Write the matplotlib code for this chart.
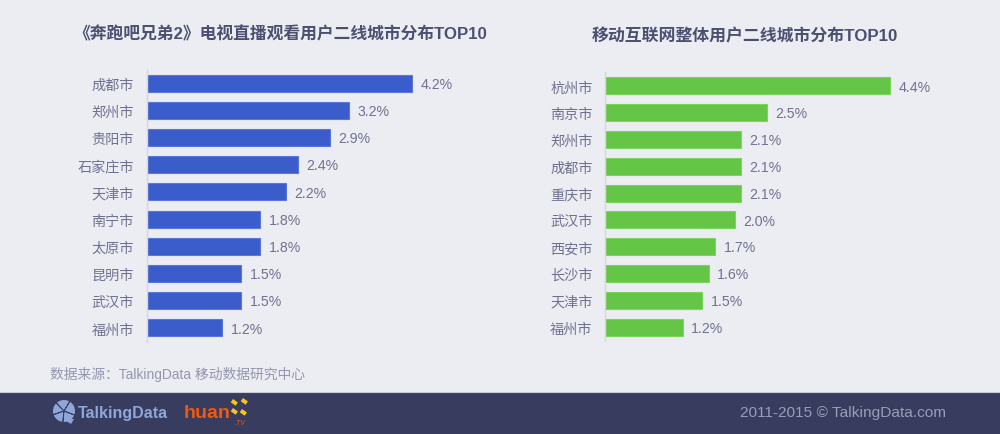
import matplotlib
matplotlib.use("Agg")
import matplotlib.pyplot as plt
from matplotlib.patches import Rectangle, Wedge, Polygon

plt.rcParams['font.family'] = ['Liberation Sans', 'Noto Sans CJK SC', 'DejaVu Sans']

W, H = 1000, 435
BG = '#ecedf3'
TEXT = '#6f7190'

left_cities = ['成都市', '郑州市', '贵阳市', '石家庄市', '天津市', '南宁市', '太原市', '昆明市', '武汉市', '福州市']
left_values = [4.2, 3.2, 2.9, 2.4, 2.2, 1.8, 1.8, 1.5, 1.5, 1.2]
right_cities = ['杭州市', '南京市', '郑州市', '成都市', '重庆市', '武汉市', '西安市', '长沙市', '天津市', '福州市']
right_values = [4.4, 2.5, 2.1, 2.1, 2.1, 2.0, 1.7, 1.6, 1.5, 1.2]

left_title = '《奔跑吧兄弟2》电视直播观看用户二线城市分布TOP10'
right_title = '移动互联网整体用户二线城市分布TOP10'


def make_axes(fig, x0, x1, y0, y1):
    return fig.add_axes([x0 / W, 1 - y1 / H, (x1 - x0) / W, (y1 - y0) / H])


def draw_bars(ax, cities, values, color, edge, xmax):
    pos = list(range(len(cities)))
    ax.barh(pos, values, height=0.63, color=color, edgecolor=edge, linewidth=0.8)
    for p, v in zip(pos, values):
        ax.annotate(f'{v}%', (v, p), xytext=(6, -0.5), textcoords='offset points',
                    va='center', ha='left', fontsize=10.2, color=TEXT)
    ax.set_yticks(pos)
    ax.set_yticklabels(cities, fontsize=10.2, color=TEXT)
    ax.tick_params(axis='y', length=0, pad=9)
    ax.set_xticks([])
    ax.set_xlim(0, xmax)
    ax.set_ylim(len(cities) - 0.5, -0.5)
    ax.patch.set_alpha(0)
    for s in ['top', 'right', 'bottom']:
        ax.spines[s].set_visible(False)
    ax.spines['left'].set_color('#d6d7de')
    ax.spines['left'].set_linewidth(1)


fig = plt.figure(figsize=(W / 100, H / 100), dpi=100, facecolor=BG)

ax1 = make_axes(fig, 146.5, 462, 70.5, 342.5)
draw_bars(ax1, left_cities, left_values, '#3b5ccb', '#5a78dc', 315.5 / 63.2)

ax2 = make_axes(fig, 605, 940, 73.5, 341.5)
draw_bars(ax2, right_cities, right_values, '#64c546', '#7ad45e', 335 / 64.8)

fig.text(280 / W, 1 - 34 / H, left_title, ha='center', va='center', fontsize=12.1,
         fontweight='bold', color='#4c5070')
fig.text(745 / W, 1 - 36 / H, right_title, ha='center', va='center', fontsize=12.2,
         fontweight='bold', color='#4c5070')
fig.text(50 / W, 1 - 374.5 / H, '数据来源：TalkingData 移动数据研究中心', ha='left', va='center',
         fontsize=9.95, color='#9496ae')

# footer band and logos
bg = fig.add_axes([0, 0, 1, 1], zorder=-1)
bg.set_xlim(0, W)
bg.set_ylim(H, 0)
bg.axis('off')
bg.add_patch(Rectangle((0, 393), W, 42, color='#383c5e', lw=0))
bg.plot([0, W], [393, 393], color='#c9cad6', lw=0.8)

logo_blue = '#8ea6d8'
bg.add_patch(Wedge((64, 412), 11, 0, 360, color=logo_blue, lw=0))
bg.add_patch(Polygon([[63, 420], [74, 420], [71, 425]], color=logo_blue, lw=0))
for a in [20, 95, 160, 225, 300]:
    bg.add_patch(Wedge((64, 412), 11.5, a, a + 2, color='#383c5e', lw=0.6))

fig.text(78 / W, 1 - 413.5 / H, 'TalkingData', ha='left', va='center', fontsize=11.5,
         fontweight='bold', color=logo_blue)
fig.text(184 / W, 1 - 414 / H, 'huan', ha='left', va='center', fontsize=14,
         fontweight='bold', color='#f0590f')
fig.text(235 / W, 1 - 423.5 / H, '.TV', ha='left', va='center', fontsize=5,
         style='italic', color='#f0590f')
for cx, cy in [(246, 401), (236, 402), (236, 411), (245, 412)]:
    bg.add_patch(Rectangle((cx - 3, cy - 2), 6, 4, angle=35, color='#f5c518', lw=0))

fig.text(946 / W, 1 - 413.5 / H, '2011-2015 © TalkingData.com', ha='right', va='center',
         fontsize=11.1, color='#9a9db8')

fig.savefig('out.png', dpi=100, facecolor=BG)
